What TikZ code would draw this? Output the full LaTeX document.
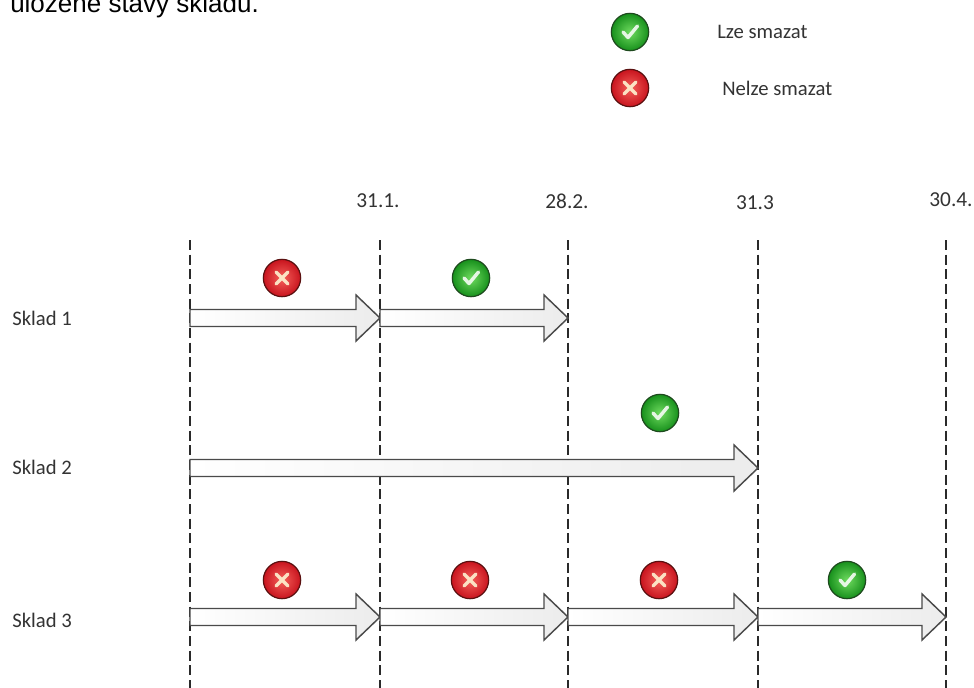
\documentclass[tikz,border=0pt]{standalone}
\usepackage{fontspec}
\setmainfont{Carlito}
\newfontfamily\arialfont{Liberation Sans}
\usetikzlibrary{calc}
\definecolor{okin}{HTML}{6FDB5F}
\definecolor{okout}{HTML}{17901C}
\definecolor{okline}{HTML}{1E4A1E}
\definecolor{noin}{HTML}{F5605A}
\definecolor{noout}{HTML}{C8141E}
\definecolor{noline}{HTML}{5A1010}
\definecolor{txt}{HTML}{333333}
\definecolor{gridc}{HTML}{2A2A2A}
\definecolor{arrc}{HTML}{4A4A4A}
\newcommand{\blockarrow}[2]{%
  \draw[blockarr] ($(#1)+(0,-8.5)$) -- ($(#2)+(-24,-8.5)$) -- ($(#2)+(-24,-23)$) -- (#2)
    -- ($(#2)+(-24,23)$) -- ($(#2)+(-24,8.5)$) -- ($(#1)+(0,8.5)$) -- cycle;}
\begin{document}
\begin{tikzpicture}[x=0.75pt,y=-0.75pt,
  lbl/.style={font=\fontsize{15.5}{18}\selectfont, text=txt, inner sep=0pt},
  datelbl/.style={font=\fontsize{16}{19}\selectfont, text=txt, inner sep=0pt},
  gridline/.style={draw=gridc, line width=1.1pt, dash pattern=on 7.5pt off 3.5pt},
  blockarr/.style={draw=arrc, line width=1.1pt, line join=miter, left color=white, right color=gray!15},
  markline/.style={line width=2.6pt, line cap=round, line join=round},
  okball/.style={circle, inner sep=0pt, minimum size=28pt, draw=okline, line width=0.9pt,
    inner color=okin, outer color=okout,
    path picture={\draw[markline, draw=white, opacity=0.85]
      ([shift={(-7,0)}]path picture bounding box.center) --
      ([shift={(-2,5.5)}]path picture bounding box.center) --
      ([shift={(7.5,-6)}]path picture bounding box.center);}},
  noball/.style={circle, inner sep=0pt, minimum size=28pt, draw=noline, line width=0.9pt,
    inner color=noin, outer color=noout,
    path picture={\draw[markline, draw=white!85!yellow, opacity=0.85]
      ([shift={(-6,-6)}]path picture bounding box.center) --
      ([shift={(6,6)}]path picture bounding box.center)
      ([shift={(-6,6)}]path picture bounding box.center) --
      ([shift={(6,-6)}]path picture bounding box.center);}}
]
\useasboundingbox (0,0) rectangle (974,687);
\clip (0,0) rectangle (974,687);
\fill[white] (0,0) rectangle (974,687);

% cut-off heading text
\node[anchor=base west, inner sep=0pt, font=\arialfont\fontsize{19.5}{22}\selectfont] (head) at (10,12) {uložené stavy skladu.};

% legend
\node[okball] (lgok) at (630,32) {};
\node[lbl, anchor=west] (lgoktxt) at (717,32) {Lze smazat};
\node[noball] (lgno) at (630,88) {};
\node[lbl, anchor=west] (lgnotxt) at (722,88) {Nelze smazat};

% timeline grid
\foreach \i/\x in {1/190,2/380,3/568,4/758,5/946}{
  \coordinate (t\i) at (\x,240);
  \coordinate (b\i) at (\x,690);
  \draw[gridline] (t\i) -- (b\i);
}
\node[datelbl] (d2) at (378,201) {31.1.};
\node[datelbl] (d3) at (567,201) {28.2.};
\node[datelbl] (d4) at (755,203) {31.3};
\node[datelbl] (d5) at (951,200) {30.4.};

% rows
\node[lbl, anchor=west] (s1) at (12,318) {Sklad 1};
\node[lbl, anchor=west] (s2) at (12,467) {Sklad 2};
\node[lbl, anchor=west] (s3) at (12,620) {Sklad 3};

\foreach \i/\x in {1/190,2/380,3/568,4/758,5/946}{
  \coordinate (r1p\i) at (\x,318);
  \coordinate (r2p\i) at (\x,468);
  \coordinate (r3p\i) at (\x,617);
}

% Sklad 1
\blockarrow{r1p1}{r1p2}
\blockarrow{r1p2}{r1p3}
\node[noball] (i11) at (282,278) {};
\node[okball] (i12) at (471,278) {};

% Sklad 2
\blockarrow{r2p1}{r2p4}
\node[okball] (i21) at (660,413) {};

% Sklad 3
\blockarrow{r3p1}{r3p2}
\blockarrow{r3p2}{r3p3}
\blockarrow{r3p3}{r3p4}
\blockarrow{r3p4}{r3p5}
\node[noball] (i31) at (282,580) {};
\node[noball] (i32) at (470,580) {};
\node[noball] (i33) at (659,580) {};
\node[okball] (i34) at (847,580) {};
\end{tikzpicture}
\end{document}
